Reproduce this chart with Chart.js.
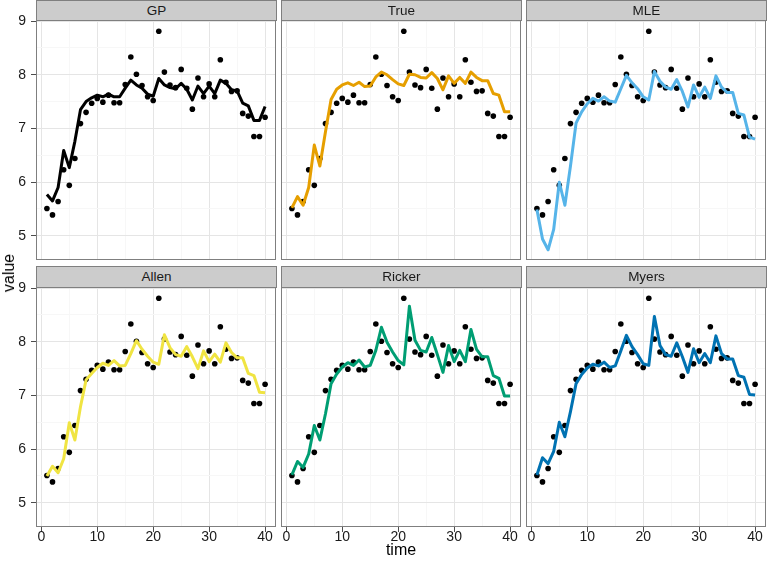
<!DOCTYPE html>
<html>
<head>
<meta charset="utf-8">
<script src="https://cdn.jsdelivr.net/npm/chart.js@4.4.0/dist/chart.umd.min.js"></script>
<style>
  body { margin: 0; background: #fff; width: 767px; height: 567px; position: relative; overflow: hidden;
         font-family: "Liberation Sans", Arial, sans-serif; }
  canvas { position: absolute; }
  .strip { position: absolute; background: #CCCCCC; border: 1px solid #7F7F7F; box-sizing: border-box;
           text-align: center; font-size: 13.5px; line-height: 19px; color: #1A1A1A; }
  .axtitle { position: absolute; font-size: 16px; color: #000; white-space: nowrap; }
</style>
</head>
<body>
<canvas id="c0"></canvas><canvas id="c1"></canvas><canvas id="c2"></canvas>
<canvas id="c3"></canvas><canvas id="c4"></canvas><canvas id="c5"></canvas>
<div class="axtitle" style="left:9px; top:273px; transform:translate(-50%,-50%) rotate(-90deg);">value</div>
<div class="axtitle" style="left:0; width:802px; top:541px; text-align:center;">time</div>
<script>
// 資料
var time = [1,2,3,4,5,6,7,8,9,10,11,12,13,14,15,16,17,18,19,20,
            21,22,23,24,25,26,27,28,29,30,31,32,33,34,35,36,37,38,39,40];

var observed = [5.51,5.39,5.64,6.23,5.94,6.44,7.09,7.30,7.47,7.56,7.49,7.62,7.48,7.48,7.82,8.33,8.01,7.80,7.59,7.52,
                8.81,8.05,7.81,7.76,8.10,7.75,7.36,7.94,7.59,7.83,7.59,8.28,7.86,7.69,7.70,7.28,7.23,6.85,6.85,7.21];

var gp     = [5.77,5.65,5.90,6.59,6.27,6.76,7.35,7.50,7.57,7.62,7.59,7.64,7.59,7.59,7.75,7.90,7.81,7.75,7.64,7.60,
              7.93,7.81,7.76,7.74,7.84,7.73,7.53,7.79,7.65,7.79,7.65,7.90,7.84,7.72,7.70,7.47,7.42,7.15,7.15,7.41];
var truth  = [5.52,5.73,5.57,5.90,6.69,6.30,6.94,7.54,7.73,7.81,7.85,7.80,7.86,7.78,7.79,7.96,8.05,8.00,7.91,7.83,
              7.80,8.01,8.00,7.95,7.94,8.04,7.93,7.72,7.98,7.84,7.95,7.84,8.05,7.95,7.89,7.89,7.65,7.62,7.31,7.31];
var mle    = [5.49,4.94,4.74,5.12,6.00,5.57,6.30,7.10,7.31,7.46,7.56,7.51,7.59,7.51,7.49,7.74,7.99,7.85,7.74,7.59,
              7.53,8.06,7.88,7.77,7.73,7.91,7.69,7.40,7.81,7.58,7.77,7.56,7.98,7.77,7.67,7.67,7.28,7.25,6.84,6.80];
var allen  = [5.50,5.68,5.56,5.82,6.49,6.17,6.79,7.29,7.41,7.52,7.60,7.56,7.65,7.55,7.56,7.78,8.02,7.86,7.73,7.62,
              7.58,8.13,7.89,7.76,7.73,7.91,7.72,7.50,7.83,7.63,7.77,7.62,7.98,7.80,7.70,7.70,7.41,7.37,7.06,7.05];
var ricker = [5.52,5.77,5.66,5.91,6.44,6.17,6.66,7.22,7.40,7.53,7.61,7.56,7.66,7.53,7.56,7.84,8.27,7.99,7.81,7.65,
              7.57,8.66,8.03,7.84,7.81,8.08,7.76,7.43,7.93,7.63,7.84,7.63,8.23,7.86,7.72,7.72,7.37,7.32,6.99,6.99];
var myers  = [5.52,5.84,5.73,5.96,6.50,6.23,6.70,7.22,7.39,7.51,7.58,7.55,7.62,7.52,7.55,7.83,8.12,7.91,7.76,7.59,
              7.56,8.47,7.93,7.76,7.73,7.98,7.72,7.43,7.87,7.61,7.78,7.61,8.11,7.78,7.68,7.68,7.37,7.34,7.02,7.01];

var panelNames  = ['GP', 'True', 'MLE', 'Allen', 'Ricker', 'Myers'];
var panelSeries = [gp, truth, mle, allen, ricker, myers];
var panelColors = ['#000000', '#E69F00', '#56B4E9', '#F0E442', '#009E73', '#0072B2'];

var xTicks = [0,5,10,15,20,25,30,35,40];
var yTicks = [5,5.5,6,6.5,7,7.5,8,8.5,9];

// 版面
var colLeft = [36, 281, 526];
var rowTop  = [20, 287];
var panelW  = 240, panelH = 240;
var yAxisW  = 36, xAxisH = 28, padTop = 10;

function pairs(ys) {                       // time + value -> {x, y}
  return time.map(function (t, i) { return { x: t, y: ys[i] }; });
}

var borderPlugin = {                       // 面板外框
  id: 'panelBorder',
  afterDraw: function (chart) {
    var a = chart.chartArea, ctx = chart.ctx;
    ctx.save();
    ctx.strokeStyle = '#7F7F7F';
    ctx.lineWidth = 1;
    ctx.strokeRect(a.left + 0.5, a.top + 0.5, a.right - a.left - 1, a.bottom - a.top - 1);
    ctx.restore();
  }
};

function makePanel(k) {
  var col = k % 3, row = Math.floor(k / 3);
  var showY = col === 0, showX = row === 1;
  var canvas = document.getElementById('c' + k);
  var w = panelW + (showY ? yAxisW : 0);
  var h = padTop + panelH + (showX ? xAxisH : 0);
  canvas.width = w; canvas.height = h;
  canvas.style.left = (colLeft[col] - (showY ? yAxisW : 0)) + 'px';
  canvas.style.top = (rowTop[row] - padTop) + 'px';

  var tickFont = { family: '"Liberation Sans", Arial, sans-serif', size: 14, lineHeight: 1 };

  new Chart(canvas.getContext('2d'), {
    type: 'scatter',
    data: {
      datasets: [
        { data: pairs(panelSeries[k]), showLine: true, borderColor: panelColors[k], borderWidth: 3,
          borderJoinStyle: 'round', pointRadius: 0, tension: 0 },
        { data: pairs(observed), showLine: false, backgroundColor: '#000', borderWidth: 0, pointRadius: 2.8 }
      ]
    },
    options: {
      responsive: false, animation: false, devicePixelRatio: 1,
      layout: { autoPadding: false, padding: { top: padTop, left: 0, right: 0, bottom: 0 } },
      plugins: { legend: { display: false }, tooltip: { enabled: false } },
      scales: {
        x: {
          type: 'linear', min: -0.95, max: 41.95,
          afterBuildTicks: function (s) { s.ticks = xTicks.map(function (v) { return { value: v }; }); },
          afterFit: function (s) { s.height = showX ? xAxisH : 0; s.paddingLeft = 0; s.paddingRight = 0; },
          border: { display: false },
          grid: {
            color: function (c) { return c.tick && c.tick.value % 10 === 0 ? '#E5E5E5' : '#F7F7F7'; },
            tickColor: function (c) { return c.tick && c.tick.value % 10 === 0 ? '#4D4D4D' : 'rgba(0,0,0,0)'; },
            tickLength: 5, drawTicks: showX
          },
          ticks: {
            display: showX, autoSkip: false, maxRotation: 0, padding: -2, color: '#1A1A1A', font: tickFont,
            callback: function (v) { return v % 10 === 0 ? v : ''; }
          }
        },
        y: {
          type: 'linear', min: 4.55, max: 9.02,
          afterBuildTicks: function (s) { s.ticks = yTicks.map(function (v) { return { value: v }; }); },
          afterFit: function (s) { s.width = showY ? yAxisW : 0; s.paddingTop = 0; s.paddingBottom = 0; },
          border: { display: false },
          grid: {
            color: function (c) { return c.tick && Number.isInteger(c.tick.value) ? '#E5E5E5' : '#F7F7F7'; },
            tickColor: function (c) { return c.tick && Number.isInteger(c.tick.value) ? '#4D4D4D' : 'rgba(0,0,0,0)'; },
            tickLength: 5, drawTicks: showY
          },
          ticks: {
            display: showY, autoSkip: false, padding: 5, color: '#1A1A1A', font: tickFont,
            callback: function (v) { return Number.isInteger(v) ? v : ''; }
          }
        }
      }
    },
    plugins: [borderPlugin]
  });

  var strip = document.createElement('div');   // 面板標題
  strip.className = 'strip';
  strip.textContent = panelNames[k];
  strip.style.left = colLeft[col] + 'px';
  strip.style.width = (panelW + 1) + 'px';
  strip.style.top = (row === 0 ? 0 : 266) + 'px';
  strip.style.height = (rowTop[row] - (row === 0 ? 0 : 266) + 1) + 'px';
  document.body.appendChild(strip);
}

for (var k = 0; k < 6; k++) makePanel(k);
</script>
</body>
</html>
